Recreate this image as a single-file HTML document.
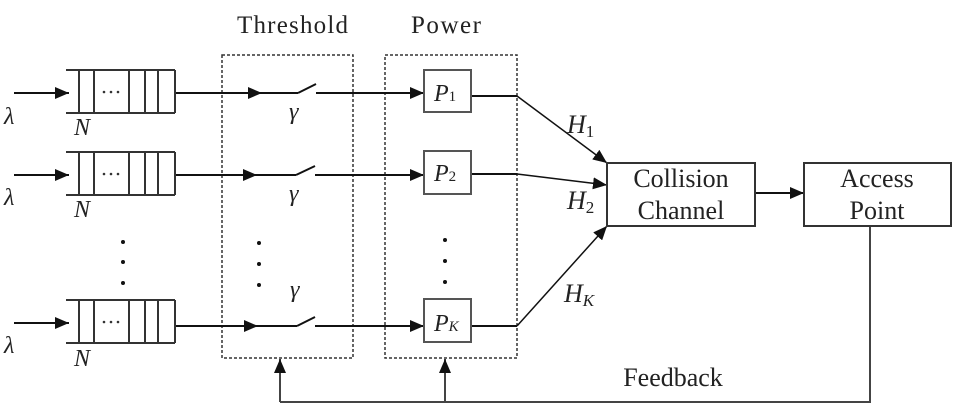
<!DOCTYPE html>
<html><head><meta charset="utf-8"><style>
html,body{margin:0;padding:0;background:#fff;width:978px;height:411px;overflow:hidden}
svg{display:block}
text{font-family:"Liberation Serif",serif;fill:#222}
</style></head><body>
<svg width="978" height="411" viewBox="0 0 978 411" xmlns="http://www.w3.org/2000/svg">
<defs>
<marker id="b" markerWidth="14" markerHeight="12" refX="14" refY="6" orient="auto" markerUnits="userSpaceOnUse">
<path d="M0,0 L14,6 L0,12 z" fill="#111"/></marker>
<g id="q" stroke="#333" stroke-width="2" fill="none">
<line x1="66" y1="0" x2="175" y2="0"/><line x1="66" y1="43" x2="175" y2="43"/>
<line x1="79" y1="0" x2="79" y2="43"/><line x1="94" y1="0" x2="94" y2="43"/>
<line x1="129" y1="0" x2="129" y2="43"/><line x1="145" y1="0" x2="145" y2="43"/>
<line x1="158" y1="0" x2="158" y2="43"/><line x1="175" y1="0" x2="175" y2="43"/>
<circle cx="104" cy="22" r="1.3" fill="#333" stroke="none"/><circle cx="111" cy="22" r="1.3" fill="#333" stroke="none"/><circle cx="118" cy="22" r="1.3" fill="#333" stroke="none"/>
</g>
</defs>
<text x="237" y="33" font-size="25" textLength="111">Threshold</text>
<text x="411" y="33" font-size="25" textLength="70">Power</text>
<rect x="222" y="55" width="131" height="303" fill="none" stroke="#333" stroke-width="1.5" stroke-dasharray="3,2"/>
<rect x="385" y="55" width="132" height="303" fill="none" stroke="#333" stroke-width="1.5" stroke-dasharray="3,2"/>
<g stroke="#111" stroke-width="2" fill="none">
<line x1="14" y1="93" x2="69" y2="93" marker-end="url(#b)"/>
<line x1="14" y1="175" x2="69" y2="175" marker-end="url(#b)"/>
<line x1="14" y1="323" x2="69" y2="323" marker-end="url(#b)"/>
<line x1="175" y1="93" x2="262" y2="93" marker-end="url(#b)"/><line x1="262" y1="93" x2="298" y2="93"/><line x1="298" y1="93" x2="316" y2="84"/><line x1="316" y1="93" x2="424" y2="93" marker-end="url(#b)"/>
<line x1="175" y1="175" x2="257" y2="175" marker-end="url(#b)"/><line x1="257" y1="175" x2="296" y2="175"/><line x1="296" y1="175" x2="315" y2="166"/><line x1="315" y1="175" x2="424" y2="175" marker-end="url(#b)"/>
<line x1="175" y1="326" x2="258" y2="326" marker-end="url(#b)"/><line x1="258" y1="326" x2="297" y2="326"/><line x1="297" y1="326" x2="315" y2="317"/><line x1="315" y1="326" x2="424" y2="326" marker-end="url(#b)"/>
<line x1="471" y1="96" x2="517" y2="96"/><line x1="471" y1="174" x2="517" y2="174"/><line x1="471" y1="326" x2="517" y2="326"/>
<line x1="517" y1="96" x2="607" y2="163" stroke-width="1.5" marker-end="url(#b)"/>
<line x1="517" y1="174" x2="607" y2="185" stroke-width="1.5" marker-end="url(#b)"/>
<line x1="517" y1="326" x2="607" y2="226" stroke-width="1.5" marker-end="url(#b)"/>
<line x1="755" y1="193" x2="804" y2="193" marker-end="url(#b)"/>
<polyline points="870,226 870,402 280,402" stroke="#444"/>
<line x1="280" y1="402" x2="280" y2="359" stroke="#444" marker-end="url(#b)"/>
<line x1="445" y1="402" x2="445" y2="359" stroke="#444" marker-end="url(#b)"/>
</g>
<use href="#q" y="70"/><use href="#q" y="152"/><use href="#q" y="300"/>
<g fill="#fff" stroke="#555" stroke-width="2">
<rect x="424" y="70" width="47" height="42"/><rect x="424" y="151" width="47" height="43"/><rect x="424" y="299" width="47" height="43"/>
<rect x="607" y="163" width="148" height="63" stroke="#333"/><rect x="804" y="163" width="147" height="63" stroke="#333"/>
</g>
<g fill="#111">
<circle cx="123" cy="242" r="2"/><circle cx="123" cy="262" r="2"/><circle cx="123" cy="283" r="2"/>
<circle cx="259" cy="243" r="2"/><circle cx="259" cy="264" r="2"/><circle cx="259" cy="285" r="2"/>
<circle cx="445" cy="240" r="2"/><circle cx="445" cy="261" r="2"/><circle cx="445" cy="282" r="2"/>
</g>
<g font-style="italic" font-size="24">
<text x="4" y="124">λ</text><text x="4" y="205">λ</text><text x="4" y="353">λ</text>
<text x="74" y="135">N</text><text x="74" y="217">N</text><text x="74" y="366">N</text>
<text x="289" y="119">γ</text><text x="289" y="201">γ</text><text x="290" y="297">γ</text>
<text x="434" y="101">P<tspan font-size="15" font-style="normal">1</tspan></text>
<text x="434" y="181">P<tspan font-size="15" font-style="normal">2</tspan></text>
<text x="434" y="331">P<tspan font-size="15">K</tspan></text>
<text x="567" y="133" font-size="26">H<tspan font-size="17" font-style="normal" dy="4">1</tspan></text>
<text x="567" y="209" font-size="26">H<tspan font-size="17" font-style="normal" dy="4">2</tspan></text>
<text x="564" y="302" font-size="26">H<tspan font-size="17" dy="4">K</tspan></text>
</g>
<g font-size="26" text-anchor="middle">
<text x="681" y="187">Collision</text><text x="681" y="219">Channel</text>
<text x="877" y="187">Access</text><text x="877" y="219">Point</text>
<text x="673" y="386">Feedback</text>
</g>
</svg>
</body></html>
